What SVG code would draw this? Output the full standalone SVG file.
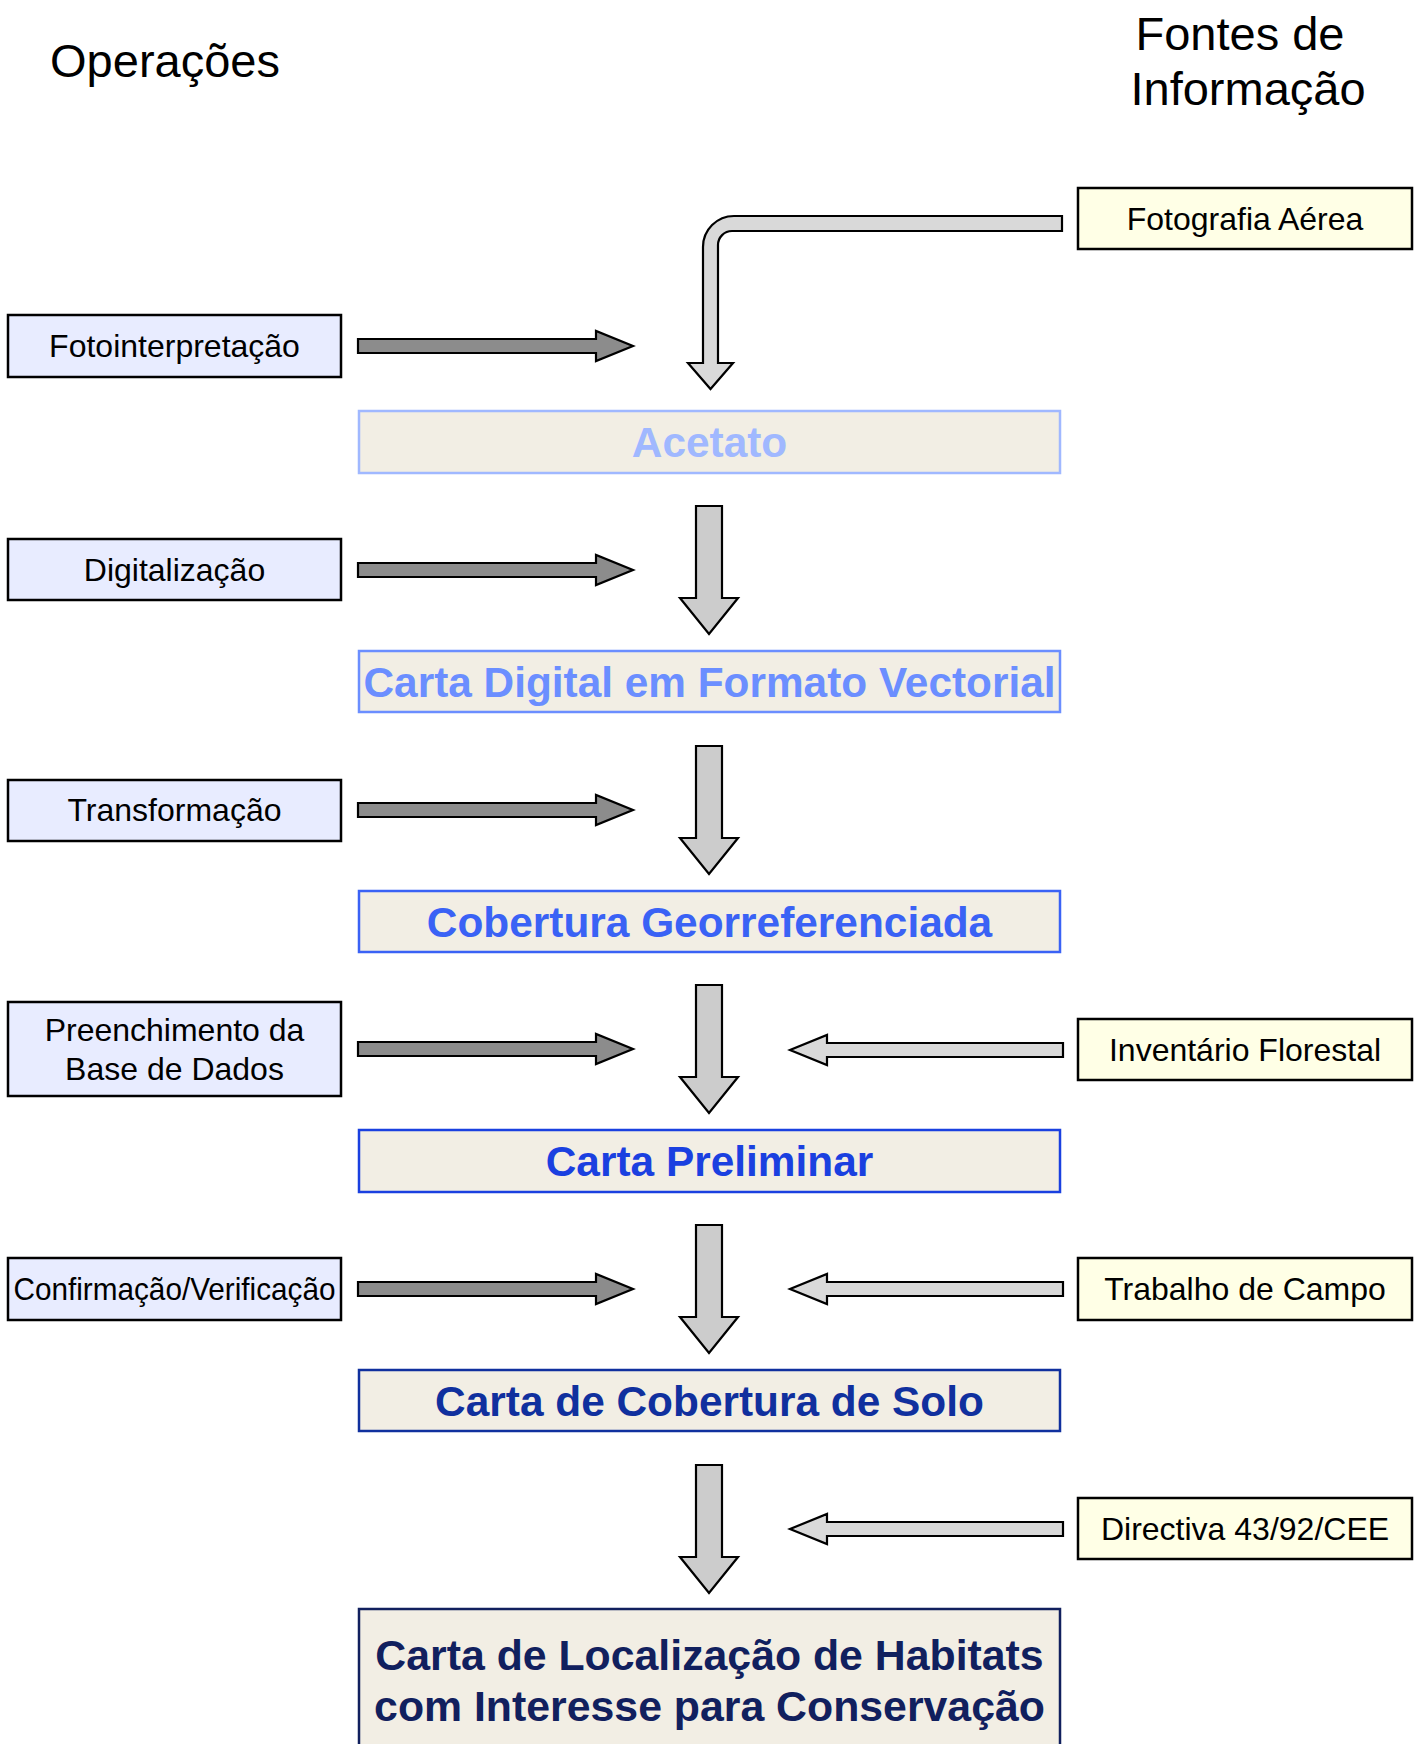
<svg xmlns="http://www.w3.org/2000/svg" width="1420" height="1744" viewBox="0 0 1420 1744">
<style>
  text { font-family: "Liberation Sans", Arial, sans-serif; }
  .hdr { font-size: 47px; fill: #000; text-anchor: middle; }
  .op rect { fill: #e8ecff; stroke: #000; stroke-width: 2.5; }
  .src rect { fill: #ffffe6; stroke: #000; stroke-width: 2.5; }
  .lbl { font-size: 32px; fill: #000; text-anchor: middle; }
  .main rect { fill: #f2eee4; stroke-width: 2.5; }
  .big { font-size: 42.4px; font-weight: bold; text-anchor: middle; }
  .dark { fill: #8c8c8c; stroke: #000; stroke-width: 2.2; stroke-linejoin: miter; }
  .light { fill: #d9d9d9; stroke: #000; stroke-width: 2.2; }
  .down { fill: #cccccc; stroke: #000; stroke-width: 2.2; }
</style>
<defs>
  <path id="ra" d="M358 -7 H596 V-15 L633 0 L596 15 V7 H358 Z"/>
  <path id="la" d="M1063 -7 H827 V-15 L790 0 L827 15 V7 H1063 Z"/>
  <path id="da" d="M696 0 H722 V92 H738 L709 128 L680 92 H696 Z"/>
</defs>
<rect width="1420" height="1744" fill="#fff"/>

<text class="hdr" x="165" y="77">Operações</text>
<text class="hdr" x="1240" y="50">Fontes de</text>
<text class="hdr" x="1248" y="105">Informação</text>

<g id="connectors">
  <path class="light" d="M1062 216 L734 216 A31 31 0 0 0 703 247 L703 363 L688 363 L710.5 389 L733 363 L718 363 L718 245 A14 14 0 0 1 732 231 L1062 231 Z"/>
  <use href="#ra" class="dark" transform="translate(0,346)"/>
  <use href="#ra" class="dark" transform="translate(0,570)"/>
  <use href="#ra" class="dark" transform="translate(0,810)"/>
  <use href="#ra" class="dark" transform="translate(0,1049)"/>
  <use href="#ra" class="dark" transform="translate(0,1289)"/>
  <use href="#la" class="light" transform="translate(0,1050)"/>
  <use href="#la" class="light" transform="translate(0,1289)"/>
  <use href="#la" class="light" transform="translate(0,1529)"/>
  <use href="#da" class="down" transform="translate(0,506)"/>
  <use href="#da" class="down" transform="translate(0,746)"/>
  <use href="#da" class="down" transform="translate(0,985)"/>
  <use href="#da" class="down" transform="translate(0,1225)"/>
  <use href="#da" class="down" transform="translate(0,1465)"/>
</g>

<g id="fotografia" class="src"><rect x="1078" y="188" width="334" height="61"/><text class="lbl" x="1245" y="230">Fotografia Aérea</text></g>
<g id="inventario" class="src"><rect x="1078" y="1019" width="334" height="61"/><text class="lbl" x="1245" y="1061">Inventário Florestal</text></g>
<g id="trabalho" class="src"><rect x="1078" y="1258" width="334" height="62"/><text class="lbl" x="1245" y="1300">Trabalho de Campo</text></g>
<g id="directiva" class="src"><rect x="1078" y="1498" width="334" height="61"/><text class="lbl" x="1245" y="1540">Directiva 43/92/CEE</text></g>

<g id="fotointerpretacao" class="op"><rect x="8" y="315" width="333" height="62"/><text class="lbl" x="174.5" y="357">Fotointerpretação</text></g>
<g id="digitalizacao" class="op"><rect x="8" y="539" width="333" height="61"/><text class="lbl" x="174.5" y="581">Digitalização</text></g>
<g id="transformacao" class="op"><rect x="8" y="780" width="333" height="61"/><text class="lbl" x="174.5" y="821">Transformação</text></g>
<g id="preenchimento" class="op"><rect x="8" y="1002" width="333" height="94"/><text class="lbl" x="174.5" y="1041">Preenchimento da</text><text class="lbl" x="174.5" y="1080">Base de Dados</text></g>
<g id="confirmacao" class="op"><rect x="8" y="1258" width="333" height="62"/><text class="lbl" x="174.5" y="1300" textLength="322" lengthAdjust="spacingAndGlyphs">Confirmação/Verificação</text></g>

<g id="acetato" class="main"><rect x="359" y="411" width="701" height="62" stroke="#a0b8ff"/><text class="big" x="709.5" y="457" fill="#a0b8ff">Acetato</text></g>
<g id="carta-digital" class="main"><rect x="359" y="651" width="701" height="61" stroke="#6b8eff"/><text class="big" x="709.5" y="697" fill="#6b8eff" textLength="692" lengthAdjust="spacingAndGlyphs">Carta Digital em Formato Vectorial</text></g>
<g id="cobertura-geo" class="main"><rect x="359" y="891" width="701" height="61" stroke="#3a62f5"/><text class="big" x="709.5" y="937" fill="#3a62f5">Cobertura Georreferenciada</text></g>
<g id="carta-preliminar" class="main"><rect x="359" y="1130" width="701" height="62" stroke="#1a40e0"/><text class="big" x="709.5" y="1176" fill="#1a40e0">Carta Preliminar</text></g>
<g id="carta-solo" class="main"><rect x="359" y="1370" width="701" height="61" stroke="#10309e"/><text class="big" x="709.5" y="1416" fill="#10309e">Carta de Cobertura de Solo</text></g>
<g id="carta-habitats" class="main"><rect x="359" y="1609" width="701" height="150" stroke="#11205e"/><text class="big" x="709.5" y="1670" fill="#11205e" style="font-size:42.8px">Carta de Localização de Habitats</text><text class="big" x="709.5" y="1721" fill="#11205e" style="font-size:42.8px">com Interesse para Conservação</text></g>
</svg>
